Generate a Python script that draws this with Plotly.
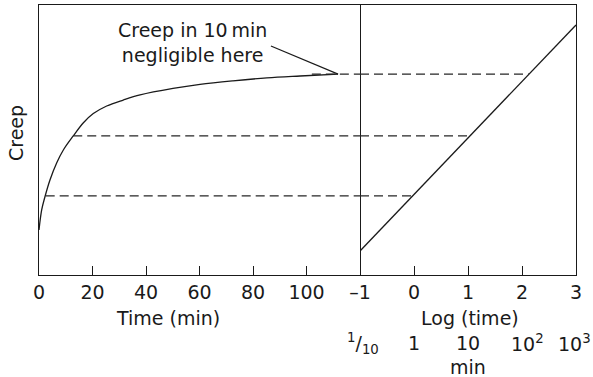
import plotly.graph_objects as go

# Creep measured on a linear time scale (minutes)
time_min = [0, 1.0, 2.2, 4.1, 6.6, 9.1, 12.8, 16.6, 20.3, 25.3, 31.5, 37.8, 50.1, 60.2, 72.5, 85.2, 97.6, 111.8]
creep_lin = [1.67, 2.41, 2.89, 3.52, 4.15, 4.63, 5.15, 5.64, 5.98, 6.26, 6.48, 6.67, 6.91, 7.06, 7.19, 7.30, 7.37, 7.44]

# The same creep on a log(time) scale is a straight line
log_time = [-1, 3]
creep_log = [0.89, 9.26]

# Equal-creep levels linking the two scales
level_creep = [2.93, 5.15, 7.44]
level_start_min = [2.5, 12.8, 102.0]
level_end_log = [0.0, 1.04, 2.13]

# Leader line for the note
note_line_min = [86.7, 111.8]
note_line_creep = [8.48, 7.44]

lin_tickvals = [0, 20, 40, 60, 80, 100]
lin_ticktext = ["0", "20", "40", "60", "80", "100"]
log_tickvals = [-1, 0, 1, 2, 3]
log_ticktext = ["\u20131", "0", "1", "2", "3"]
minute_labels = ["<sup>1</sup>/<sub>10</sub>", "1", "10", "10<sup>2</sup>", "10<sup>3</sup>"]
minute_shift = [3, 0, 0, 5, -2]

INK = "#1a1a1a"
DASH_INK = "#262626"
FONT = dict(family="DejaVu Sans", size=19, color=INK)

W, H = 593, 377
L, R, T, B = 39, 17, 5, 102
PW, PH = W - L - R, H - T - B
split = 321 / PW


def px(x, y):
    """Pixel position -> paper coordinates."""
    return (x - L) / PW, (H - B - y) / PH


fig = go.Figure()

fig.add_trace(go.Scatter(x=time_min, y=creep_lin, mode="lines",
                         line=dict(color=INK, width=1.3, shape="spline", smoothing=1.0),
                         xaxis="x", yaxis="y"))
fig.add_trace(go.Scatter(x=log_time, y=creep_log, mode="lines",
                         line=dict(color=INK, width=1.3), xaxis="x2", yaxis="y2"))

for c, t0, l1 in zip(level_creep, level_start_min, level_end_log):
    fig.add_trace(go.Scatter(x=[t0, 120], y=[c, c], mode="lines",
                             line=dict(color=DASH_INK, width=1.3, dash="9px,5px"),
                             xaxis="x", yaxis="y"))
    fig.add_trace(go.Scatter(x=[-1, l1], y=[c, c], mode="lines",
                             line=dict(color=DASH_INK, width=1.3, dash="9px,5px"),
                             xaxis="x2", yaxis="y2"))

fig.add_trace(go.Scatter(x=note_line_min, y=note_line_creep, mode="lines",
                         line=dict(color=INK, width=1.2), xaxis="x", yaxis="y"))

axis_common = dict(showgrid=False, zeroline=False, showline=True, mirror=True,
                   linecolor=INK, linewidth=1.2, ticks="inside", ticklen=9,
                   tickcolor=INK, tickwidth=1.2, tickfont=FONT)

annotations = []


def label(text, x, y, angle=0):
    xp, yp = px(x, y)
    annotations.append(dict(text=text, x=xp, y=yp, xref="paper", yref="paper",
                            xanchor="center", yanchor="middle", showarrow=False,
                            font=FONT, textangle=angle))


label("Creep", 16, 133, -90)
label("Creep in 10\u2009min<br>negligible here", 192, 43)
label("Time (min)", 168, 318)
label("Log (time)", 470, 318)
label("min", 468, 367)

for lt, text, shift in zip(log_tickvals, minute_labels, minute_shift):
    annotations.append(dict(text=text, x=lt, y=px(0, 343)[1], xref="x2", yref="paper",
                            xanchor="center", yanchor="middle", showarrow=False,
                            font=FONT, xshift=shift))

fig.update_layout(
    width=W, height=H,
    margin=dict(l=L, r=R, t=T, b=B),
    paper_bgcolor="white", plot_bgcolor="white",
    showlegend=False, hovermode=False,
    xaxis=dict(domain=[0, split], range=[0, 120], tickvals=lin_tickvals,
               ticktext=lin_ticktext, anchor="y", **axis_common),
    xaxis2=dict(domain=[split, 1], range=[-1, 3], tickvals=log_tickvals,
                ticktext=log_ticktext, anchor="y2", **axis_common),
    yaxis=dict(domain=[0, 1], range=[0, 10], showticklabels=False, anchor="x",
               **{**axis_common, "ticks": ""}),
    yaxis2=dict(domain=[0, 1], range=[0, 10], showticklabels=False, anchor="x2",
                side="right", **{**axis_common, "ticks": "", "mirror": False}),
    annotations=annotations,
)

fig.write_html("out.html")
